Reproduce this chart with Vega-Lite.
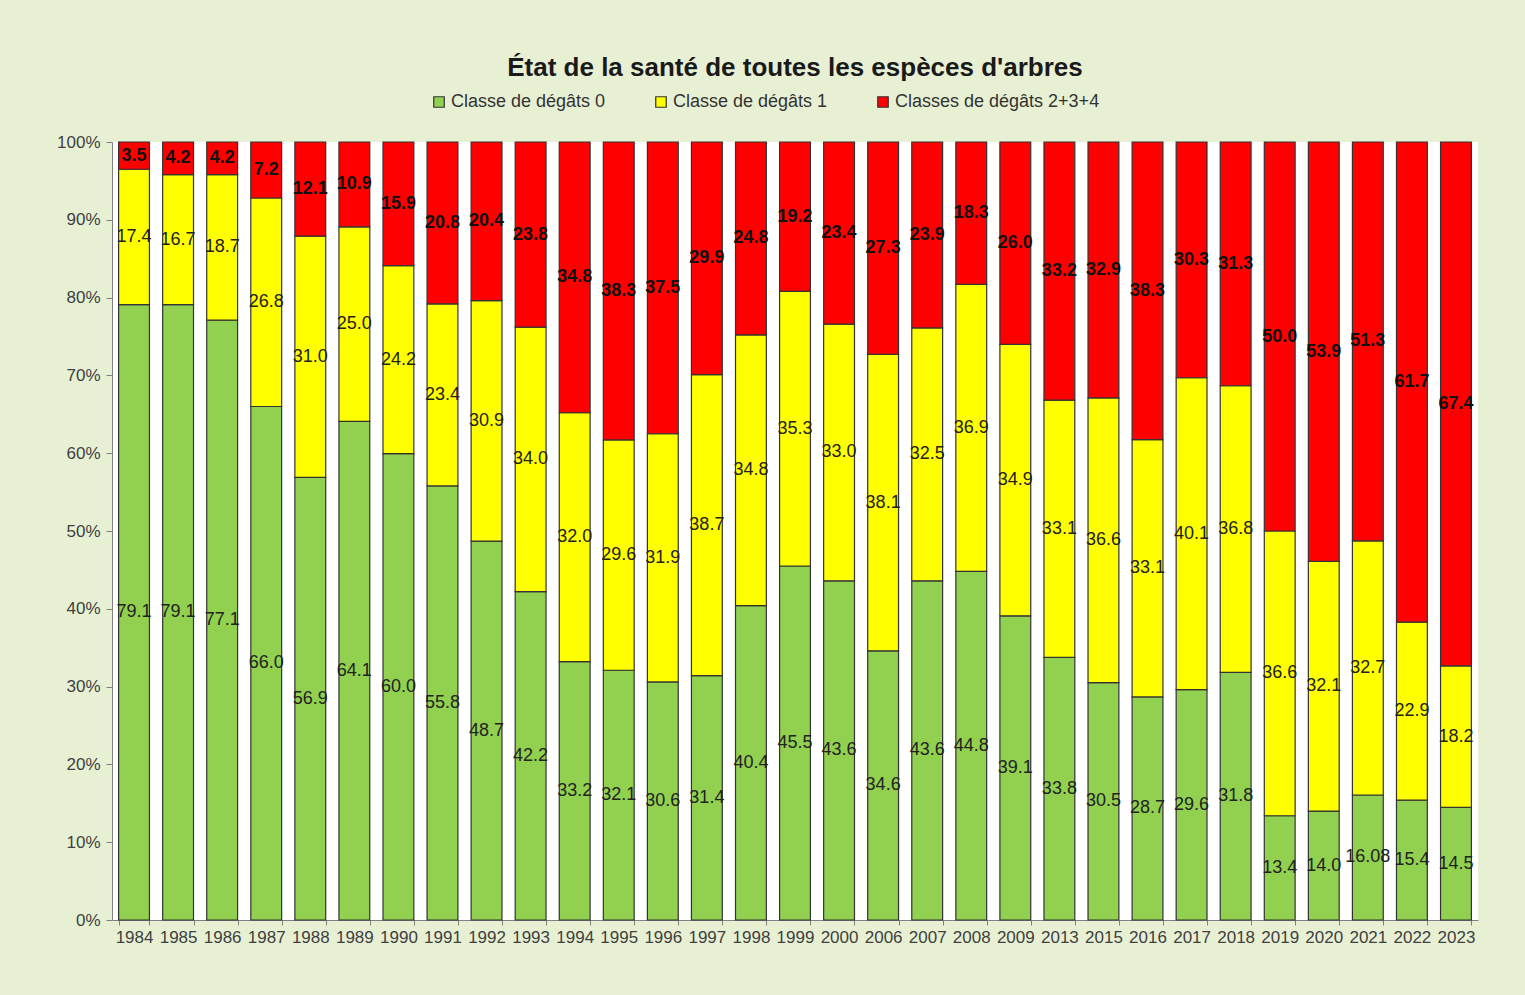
{
  "$schema": "https://vega.github.io/schema/vega-lite/v6.json",
  "autosize": {"type": "none"},
  "width": 1366,
  "height": 778,
  "padding": {"left": 112, "top": 142, "right": 47, "bottom": 75},
  "background": "#e8f0d4",
  "title": {
    "text": "État de la santé de toutes les espèces d'arbres",
    "font": "Liberation Sans",
    "fontSize": 26,
    "fontWeight": "bold",
    "color": "#1a1a1a",
    "anchor": "middle",
    "frame": "group",
    "offset": 12
  },
  "config": {
    "view": {"fill": "white", "stroke": null},
    "font": "Liberation Sans",
    "axis": {"labelFont": "Liberation Sans", "labelFontSize": 17, "labelColor": "#404040", "domainColor": "#808080", "tickColor": "#808080", "grid": false, "title": null}
  },
  "data": {"values": [
    {"year":"1984","cls":"Classe de dégâts 0","v":79.1,"t":"79.1"},{"year":"1984","cls":"Classe de dégâts 1","v":17.4,"t":"17.4"},{"year":"1984","cls":"Classes de dégâts 2+3+4","v":3.5,"t":"3.5"},
    {"year":"1985","cls":"Classe de dégâts 0","v":79.1,"t":"79.1"},{"year":"1985","cls":"Classe de dégâts 1","v":16.7,"t":"16.7"},{"year":"1985","cls":"Classes de dégâts 2+3+4","v":4.2,"t":"4.2"},
    {"year":"1986","cls":"Classe de dégâts 0","v":77.1,"t":"77.1"},{"year":"1986","cls":"Classe de dégâts 1","v":18.7,"t":"18.7"},{"year":"1986","cls":"Classes de dégâts 2+3+4","v":4.2,"t":"4.2"},
    {"year":"1987","cls":"Classe de dégâts 0","v":66.0,"t":"66.0"},{"year":"1987","cls":"Classe de dégâts 1","v":26.8,"t":"26.8"},{"year":"1987","cls":"Classes de dégâts 2+3+4","v":7.2,"t":"7.2"},
    {"year":"1988","cls":"Classe de dégâts 0","v":56.9,"t":"56.9"},{"year":"1988","cls":"Classe de dégâts 1","v":31.0,"t":"31.0"},{"year":"1988","cls":"Classes de dégâts 2+3+4","v":12.1,"t":"12.1"},
    {"year":"1989","cls":"Classe de dégâts 0","v":64.1,"t":"64.1"},{"year":"1989","cls":"Classe de dégâts 1","v":25.0,"t":"25.0"},{"year":"1989","cls":"Classes de dégâts 2+3+4","v":10.9,"t":"10.9"},
    {"year":"1990","cls":"Classe de dégâts 0","v":60.0,"t":"60.0"},{"year":"1990","cls":"Classe de dégâts 1","v":24.2,"t":"24.2"},{"year":"1990","cls":"Classes de dégâts 2+3+4","v":15.9,"t":"15.9"},
    {"year":"1991","cls":"Classe de dégâts 0","v":55.8,"t":"55.8"},{"year":"1991","cls":"Classe de dégâts 1","v":23.4,"t":"23.4"},{"year":"1991","cls":"Classes de dégâts 2+3+4","v":20.8,"t":"20.8"},
    {"year":"1992","cls":"Classe de dégâts 0","v":48.7,"t":"48.7"},{"year":"1992","cls":"Classe de dégâts 1","v":30.9,"t":"30.9"},{"year":"1992","cls":"Classes de dégâts 2+3+4","v":20.4,"t":"20.4"},
    {"year":"1993","cls":"Classe de dégâts 0","v":42.2,"t":"42.2"},{"year":"1993","cls":"Classe de dégâts 1","v":34.0,"t":"34.0"},{"year":"1993","cls":"Classes de dégâts 2+3+4","v":23.8,"t":"23.8"},
    {"year":"1994","cls":"Classe de dégâts 0","v":33.2,"t":"33.2"},{"year":"1994","cls":"Classe de dégâts 1","v":32.0,"t":"32.0"},{"year":"1994","cls":"Classes de dégâts 2+3+4","v":34.8,"t":"34.8"},
    {"year":"1995","cls":"Classe de dégâts 0","v":32.1,"t":"32.1"},{"year":"1995","cls":"Classe de dégâts 1","v":29.6,"t":"29.6"},{"year":"1995","cls":"Classes de dégâts 2+3+4","v":38.3,"t":"38.3"},
    {"year":"1996","cls":"Classe de dégâts 0","v":30.6,"t":"30.6"},{"year":"1996","cls":"Classe de dégâts 1","v":31.9,"t":"31.9"},{"year":"1996","cls":"Classes de dégâts 2+3+4","v":37.5,"t":"37.5"},
    {"year":"1997","cls":"Classe de dégâts 0","v":31.4,"t":"31.4"},{"year":"1997","cls":"Classe de dégâts 1","v":38.7,"t":"38.7"},{"year":"1997","cls":"Classes de dégâts 2+3+4","v":29.9,"t":"29.9"},
    {"year":"1998","cls":"Classe de dégâts 0","v":40.4,"t":"40.4"},{"year":"1998","cls":"Classe de dégâts 1","v":34.8,"t":"34.8"},{"year":"1998","cls":"Classes de dégâts 2+3+4","v":24.8,"t":"24.8"},
    {"year":"1999","cls":"Classe de dégâts 0","v":45.5,"t":"45.5"},{"year":"1999","cls":"Classe de dégâts 1","v":35.3,"t":"35.3"},{"year":"1999","cls":"Classes de dégâts 2+3+4","v":19.2,"t":"19.2"},
    {"year":"2000","cls":"Classe de dégâts 0","v":43.6,"t":"43.6"},{"year":"2000","cls":"Classe de dégâts 1","v":33.0,"t":"33.0"},{"year":"2000","cls":"Classes de dégâts 2+3+4","v":23.4,"t":"23.4"},
    {"year":"2006","cls":"Classe de dégâts 0","v":34.6,"t":"34.6"},{"year":"2006","cls":"Classe de dégâts 1","v":38.1,"t":"38.1"},{"year":"2006","cls":"Classes de dégâts 2+3+4","v":27.3,"t":"27.3"},
    {"year":"2007","cls":"Classe de dégâts 0","v":43.6,"t":"43.6"},{"year":"2007","cls":"Classe de dégâts 1","v":32.5,"t":"32.5"},{"year":"2007","cls":"Classes de dégâts 2+3+4","v":23.9,"t":"23.9"},
    {"year":"2008","cls":"Classe de dégâts 0","v":44.8,"t":"44.8"},{"year":"2008","cls":"Classe de dégâts 1","v":36.9,"t":"36.9"},{"year":"2008","cls":"Classes de dégâts 2+3+4","v":18.3,"t":"18.3"},
    {"year":"2009","cls":"Classe de dégâts 0","v":39.1,"t":"39.1"},{"year":"2009","cls":"Classe de dégâts 1","v":34.9,"t":"34.9"},{"year":"2009","cls":"Classes de dégâts 2+3+4","v":26.0,"t":"26.0"},
    {"year":"2013","cls":"Classe de dégâts 0","v":33.8,"t":"33.8"},{"year":"2013","cls":"Classe de dégâts 1","v":33.1,"t":"33.1"},{"year":"2013","cls":"Classes de dégâts 2+3+4","v":33.2,"t":"33.2"},
    {"year":"2015","cls":"Classe de dégâts 0","v":30.5,"t":"30.5"},{"year":"2015","cls":"Classe de dégâts 1","v":36.6,"t":"36.6"},{"year":"2015","cls":"Classes de dégâts 2+3+4","v":32.9,"t":"32.9"},
    {"year":"2016","cls":"Classe de dégâts 0","v":28.7,"t":"28.7"},{"year":"2016","cls":"Classe de dégâts 1","v":33.1,"t":"33.1"},{"year":"2016","cls":"Classes de dégâts 2+3+4","v":38.3,"t":"38.3"},
    {"year":"2017","cls":"Classe de dégâts 0","v":29.6,"t":"29.6"},{"year":"2017","cls":"Classe de dégâts 1","v":40.1,"t":"40.1"},{"year":"2017","cls":"Classes de dégâts 2+3+4","v":30.3,"t":"30.3"},
    {"year":"2018","cls":"Classe de dégâts 0","v":31.8,"t":"31.8"},{"year":"2018","cls":"Classe de dégâts 1","v":36.8,"t":"36.8"},{"year":"2018","cls":"Classes de dégâts 2+3+4","v":31.3,"t":"31.3"},
    {"year":"2019","cls":"Classe de dégâts 0","v":13.4,"t":"13.4"},{"year":"2019","cls":"Classe de dégâts 1","v":36.6,"t":"36.6"},{"year":"2019","cls":"Classes de dégâts 2+3+4","v":50.0,"t":"50.0"},
    {"year":"2020","cls":"Classe de dégâts 0","v":14.0,"t":"14.0"},{"year":"2020","cls":"Classe de dégâts 1","v":32.1,"t":"32.1"},{"year":"2020","cls":"Classes de dégâts 2+3+4","v":53.9,"t":"53.9"},
    {"year":"2021","cls":"Classe de dégâts 0","v":16.08,"t":"16.08"},{"year":"2021","cls":"Classe de dégâts 1","v":32.7,"t":"32.7"},{"year":"2021","cls":"Classes de dégâts 2+3+4","v":51.3,"t":"51.3"},
    {"year":"2022","cls":"Classe de dégâts 0","v":15.4,"t":"15.4"},{"year":"2022","cls":"Classe de dégâts 1","v":22.9,"t":"22.9"},{"year":"2022","cls":"Classes de dégâts 2+3+4","v":61.7,"t":"61.7"},
    {"year":"2023","cls":"Classe de dégâts 0","v":14.5,"t":"14.5"},{"year":"2023","cls":"Classe de dégâts 1","v":18.2,"t":"18.2"},{"year":"2023","cls":"Classes de dégâts 2+3+4","v":67.4,"t":"67.4"}
  ]},
  "encoding": {
    "x": {
      "field": "year", "type": "nominal", "sort": null,
      "scale": {"paddingInner": 0.3, "paddingOuter": 0.15},
      "axis": {"labelAngle": 0, "tickBand": "extent", "tickSize": 5, "labelPadding": 4, "labelFontSize": 17}
    },
    "order": {"field": "cls", "sort": "ascending"}
  },
  "layer": [
    {
      "mark": {"type": "bar", "stroke": "#333333", "strokeWidth": 1.2},
      "encoding": {
        "y": {
          "field": "v", "type": "quantitative", "stack": "normalize",
          "scale": {"domain": [0, 1], "nice": false},
          "axis": {"format": ".0%", "values": [0, 0.1, 0.2, 0.3, 0.4, 0.5, 0.6, 0.7, 0.8, 0.9, 1], "tickSize": 6, "labelPadding": 6}
        },
        "color": {
          "field": "cls", "type": "nominal",
          "scale": {"domain": ["Classe de dégâts 0", "Classe de dégâts 1", "Classes de dégâts 2+3+4"], "range": ["#92d050", "#ffff00", "#ff0000"]},
          "legend": {
            "title": null, "orient": "none", "direction": "horizontal",
            "legendX": 318, "legendY": -49,
            "symbolType": "square", "symbolSize": 110, "symbolStrokeColor": "#333333", "symbolStrokeWidth": 1.2,
            "labelFontSize": 18, "labelColor": "#333333", "labelOffset": 3, "columnPadding": 46, "labelLimit": 400
          }
        }
      }
    },
    {
      "mark": {"type": "text", "fontSize": 18, "color": "#222222", "baseline": "middle", "align": "center"},
      "encoding": {
        "y": {"field": "v", "type": "quantitative", "stack": "normalize", "bandPosition": 0.5},
        "detail": {"field": "cls"},
        "text": {"condition": {"test": "datum.cls == 'Classes de dégâts 2+3+4'", "value": ""}, "field": "t"}
      }
    },
    {
      "mark": {"type": "text", "fontSize": 18, "fontWeight": "bold", "color": "#111111", "baseline": "middle", "align": "center"},
      "encoding": {
        "y": {"field": "v", "type": "quantitative", "stack": "normalize", "bandPosition": 0.5},
        "detail": {"field": "cls"},
        "text": {"condition": {"test": "datum.cls != 'Classes de dégâts 2+3+4'", "value": ""}, "field": "t"}
      }
    }
  ]
}
